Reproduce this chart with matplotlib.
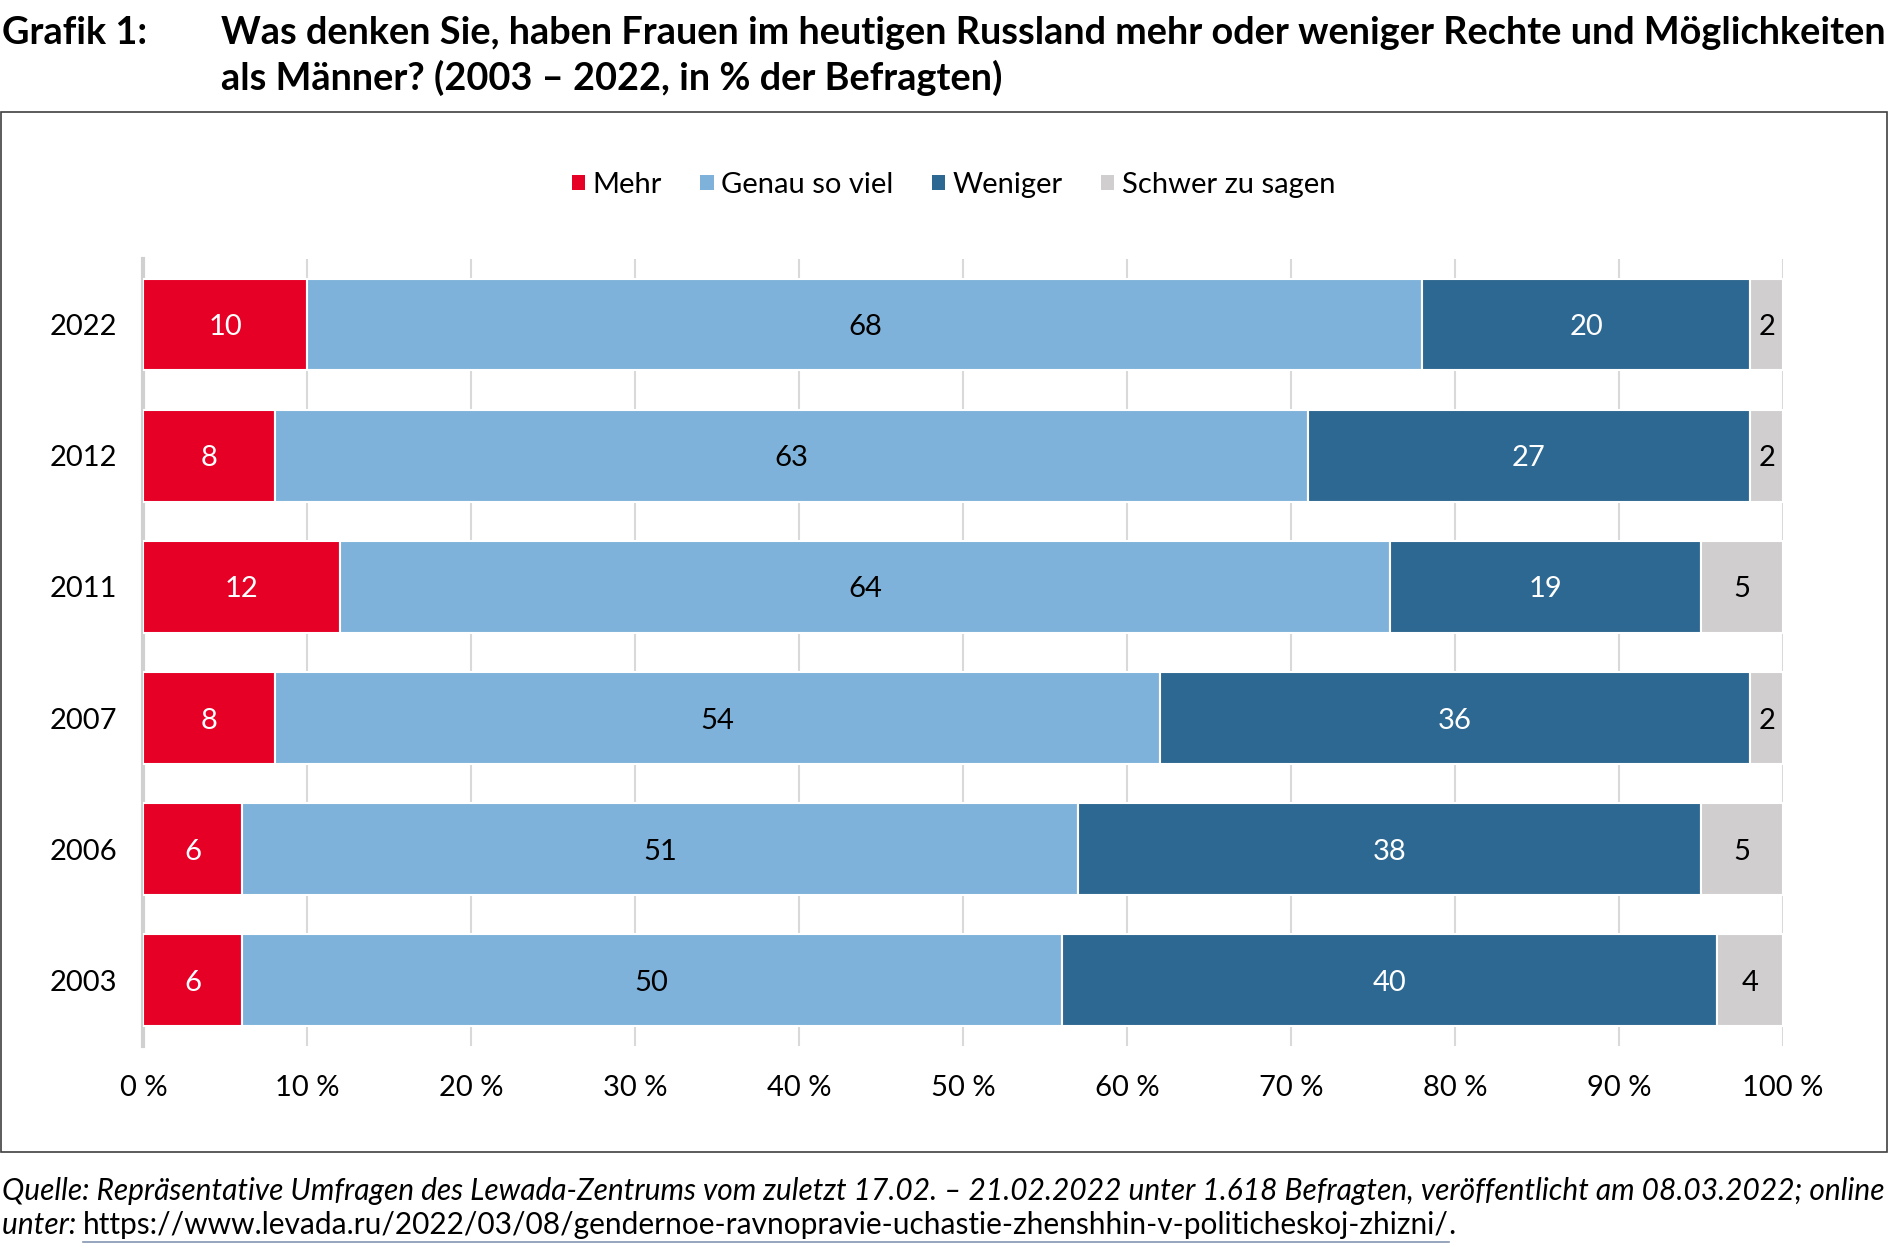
import numpy as np
import matplotlib.pyplot as plt
from matplotlib.patches import Rectangle, Patch
from matplotlib.lines import Line2D

plt.rcParams['font.family'] = ['Lato', 'DejaVu Sans']

years = ['2003', '2006', '2007', '2011', '2012', '2022']
mehr = [6, 6, 8, 12, 8, 10]
genau = [50, 51, 54, 64, 63, 68]
weniger = [40, 38, 36, 19, 27, 20]
schwer = [4, 5, 2, 5, 2, 2]

series = [mehr, genau, weniger, schwer]
names = ['Mehr', 'Genau so viel', 'Weniger', 'Schwer zu sagen']
colors = ['#E60026', '#7FB2DA', '#2D6892', '#D0CECE']
text_colors = ['white', 'black', 'white', 'black']

fig = plt.figure(figsize=(18.9, 12.54), dpi=100)
ax = fig.add_axes([0.0759, 0.1659, 0.8675, 0.6276])

y = np.arange(len(years))
left = np.zeros(len(years))
for vals, name, c, tc in zip(series, names, colors, text_colors):
    vals = np.array(vals, dtype=float)
    bars = ax.barh(y, vals, left=left, height=0.7, color=c, edgecolor='white',
                   linewidth=1.5, label=name, zorder=3)
    for yi, l, v in zip(y, left, vals):
        ax.text(l + v / 2, yi, f'{int(v)}', ha='center', va='center_baseline',
                fontsize=21, color=tc, zorder=4)
    left += vals

ax.set_xlim(0, 100)
ax.set_ylim(-0.5, 5.5)
ax.set_xticks(np.arange(0, 101, 10))
ax.set_xticklabels([f'{v} %' for v in range(0, 101, 10)])
ax.set_yticks(y)
ax.set_yticklabels(years)
ax.tick_params(axis='both', length=0, labelsize=21, colors='black')
ax.tick_params(axis='x', pad=21)
ax.tick_params(axis='y', pad=19)
ax.grid(axis='x', color='#D9D9D9', linewidth=1.5, zorder=0)
for s in ['top', 'right', 'bottom']:
    ax.spines[s].set_visible(False)
ax.spines['left'].set_color('#D0D0D0')
ax.spines['left'].set_linewidth(3)

# legend
handles = [Patch(facecolor=c, edgecolor='none') for c in colors]
fig.legend(handles, names, loc='center', bbox_to_anchor=(0.5045, 0.8525), ncol=4,
           frameon=False, fontsize=21, handlelength=0.45, handleheight=0.45,
           handletextpad=0.25, columnspacing=1.33)

# frame
fig.patches.append(Rectangle((0.0005, 1 - 1152 / 1254), 0.998, (1152 - 112) / 1254,
                             transform=fig.transFigure, fill=False,
                             edgecolor='#404040', linewidth=1.2))

# title
fig.text(0.001, 1 - 33 / 1254, 'Grafik 1:', fontsize=27.3, fontweight='bold', va='center')
fig.text(221 / 1890, 1 - 33 / 1254,
         'Was denken Sie, haben Frauen im heutigen Russland mehr oder weniger Rechte und Möglichkeiten',
         fontsize=27.3, fontweight='bold', va='center')
fig.text(221 / 1890, 1 - 78 / 1254, 'als Männer? (2003 – 2022, in % der Befragten)',
         fontsize=27.3, fontweight='bold', va='center')

# source
fig.text(0.001, 1 - 1191 / 1254,
         'Quelle: Repräsentative Umfragen des Lewada-Zentrums vom zuletzt 17.02. – 21.02.2022 '
         'unter 1.618 Befragten, veröffentlicht am 08.03.2022; online',
         fontsize=21.5, style='italic', va='center')
fig.canvas.draw()
r = fig.canvas.get_renderer()
t1 = fig.text(0.001, 1 - 1225 / 1254, 'unter: ', fontsize=21.5, style='italic', va='center')
x1 = fig.transFigure.inverted().transform(t1.get_window_extent(r))[1][0]
url = 'https://www.levada.ru/2022/03/08/gendernoe-ravnopravie-uchastie-zhenshhin-v-politicheskoj-zhizni/'
t2 = fig.text(x1, 1 - 1225 / 1254, url, fontsize=21.5, va='center')
bb = fig.transFigure.inverted().transform(t2.get_window_extent(r))
fig.text(bb[1][0], 1 - 1225 / 1254, '.', fontsize=21.5, style='italic', va='center')
fig.lines.append(Line2D([bb[0][0], bb[1][0]], [1 - 1242 / 1254] * 2,
                        transform=fig.transFigure, color='#8496B0', linewidth=1.2))

fig.savefig('out.png', dpi=100)
